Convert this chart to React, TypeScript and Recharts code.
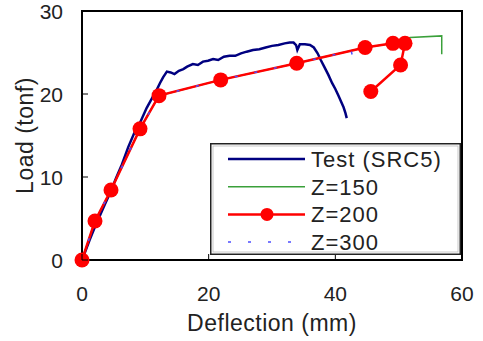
import { LineChart, Line, XAxis, YAxis, ReferenceArea, Legend } from 'recharts';

// Test (SRC5) measured curve
const testX = [0, 0.5, 1.2, 2.0, 2.8, 3.6, 4.5, 5.4, 6.3, 7.3, 8.2, 9.2, 10.2, 11.0, 11.8, 12.3, 12.8, 13.4, 14.0, 14.6, 15.3, 16.0, 16.6, 17.5, 18.3, 19.1, 19.9, 20.7, 21.5, 22.4, 23.3, 24.2, 25.1, 26.0, 27.0, 28.0, 29.0, 30.0, 31.0, 32.0, 32.8, 33.4, 33.8, 34.0, 34.4, 35.2, 36.0, 36.6, 37.2, 37.7, 38.3, 38.9, 39.5, 40.0, 40.5, 40.9, 41.3, 41.6, 41.8];
const testY = [0, 1.0, 2.4, 3.9, 5.3, 6.7, 8.2, 9.9, 11.5, 13.6, 15.2, 16.6, 18.3, 19.4, 20.5, 21.3, 22.0, 22.7, 22.6, 22.4, 22.8, 23.0, 23.3, 23.6, 23.5, 23.9, 24.0, 24.2, 24.1, 24.5, 24.6, 24.6, 24.9, 25.1, 25.3, 25.4, 25.6, 25.8, 25.9, 26.1, 26.2, 26.2, 25.9, 25.3, 26.0, 26.0, 25.9, 25.6, 24.9, 24.1, 23.2, 22.3, 21.3, 20.6, 19.8, 19.1, 18.4, 17.7, 17.1];

// Analysis Z=150
const z150X = [0, 2.05, 4.58, 9.16, 12.16, 21.9, 33.9, 44.7, 49.1, 51.8, 56.8, 56.8];
const z150Y = [0, 4.7, 8.43, 15.8, 19.8, 21.7, 23.7, 25.6, 26.1, 26.8, 27.0, 24.8];

// Analysis Z=200
const z200X = [0, 2.05, 4.58, 9.16, 12.16, 21.9, 33.9, 44.7, 49.1, 51.0, 50.3, 45.6];
const z200Y = [0, 4.7, 8.43, 15.8, 19.8, 21.7, 23.7, 25.6, 26.1, 26.1, 23.5, 20.3];

// Analysis Z=300
const z300X = [0, 2.05, 4.58, 9.16, 12.16, 21.9, 33.9, 42.5, 43.1, 42.7];
const z300Y = [0, 4.7, 8.43, 15.8, 19.8, 21.7, 23.7, 25.2, 23.4, 22.9];

const xTicks = [0, 20, 40, 60];
const yTicks = [0, 10, 20, 30];

const toPoints = (xs: number[], ys: number[]) => xs.map((x, i) => ({ x, y: ys[i] }));

const testData = toPoints(testX, testY);
const z150Data = toPoints(z150X, z150Y);
const z200Data = toPoints(z200X, z200Y);
const z300Data = toPoints(z300X, z300Y);

const FONT = '"Liberation Sans", Arial, sans-serif';
const TEXT = '#222';
const Y_MARGIN = 19;
const X_MARGIN = 26;
const TICK_LEN = 6;

const YTick = (props: any) => {
    const { x, y, payload } = props;
    const ax = x + Y_MARGIN;
    return (
        <g>
            <line x1={ax} x2={ax + TICK_LEN} y1={y} y2={y} stroke="#000" strokeWidth={1} />
            <text x={x} y={y} dy="0.36em" textAnchor="end" fontSize={21} fontFamily={FONT} fill={TEXT}>
                {payload.value}
            </text>
        </g>
    );
};

const XTick = (props: any) => {
    const { x, y, payload } = props;
    const ay = y - X_MARGIN;
    return (
        <g>
            <line x1={x} x2={x} y1={ay} y2={ay - TICK_LEN} stroke="#000" strokeWidth={1} />
            <text x={x} y={y} dy="0.71em" textAnchor="middle" fontSize={21} fontFamily={FONT} fill={TEXT}>
                {payload.value}
            </text>
        </g>
    );
};

const legendItems = [
    { name: 'Test (SRC5)', color: '#000080', width: 2.5, dash: undefined, dot: false },
    { name: 'Z=150', color: '#3aa03a', width: 1.5, dash: undefined, dot: false },
    { name: 'Z=200', color: '#ff0000', width: 2.5, dash: undefined, dot: true },
    { name: 'Z=300', color: '#4d4dff', width: 1.5, dash: '3 17', dot: false },
];

const LegendBox = () => (
    <svg width={251} height={112} style={{ display: 'block' }}>
        <rect x={0.75} y={0.75} width={249.5} height={110.5} fill="#fff" stroke="#222" strokeWidth={1.5} />
        <rect x={3} y={3} width={245} height={106} fill="none" stroke="#bbb" strokeWidth={0.8} />
        {legendItems.map((item, i) => {
            const cy = 16 + i * 27.7;
            return (
                <g key={item.name}>
                    <line x1={18} x2={95} y1={cy} y2={cy} stroke={item.color} strokeWidth={item.width} strokeDasharray={item.dash} />
                    {item.dot && <circle cx={57} cy={cy} r={6.5} fill={item.color} />}
                    <text x={101} y={cy} dy="0.36em" fontSize={22} fontFamily={FONT} fill={TEXT} letterSpacing={1}>
                        {item.name}
                    </text>
                </g>
            );
        })}
    </svg>
);

export default function App() {
    return (
        <div style={{ position: 'absolute', left: 0, top: 0, width: 483, height: 341, background: '#fff' }}>
            <LineChart width={483} height={341} margin={{ top: 11, right: 21, bottom: 0, left: 0 }}>
                <XAxis
                    dataKey="x"
                    type="number"
                    domain={[0, 60]}
                    ticks={xTicks}
                    height={81}
                    axisLine={false}
                    tickLine={false}
                    tickSize={0}
                    tickMargin={X_MARGIN}
                    tick={<XTick />}
                    label={{ value: 'Deflection (mm)', position: 'insideBottom', offset: 10, fontSize: 23, fontFamily: FONT, fill: TEXT, letterSpacing: 0.5 }}
                />
                <YAxis
                    dataKey="y"
                    type="number"
                    domain={[0, 30]}
                    ticks={yTicks}
                    width={82}
                    axisLine={false}
                    tickLine={false}
                    tickSize={0}
                    tickMargin={Y_MARGIN}
                    tick={<YTick />}
                    label={{ value: 'Load (tonf)', angle: -90, position: 'insideLeft', offset: 25, fontSize: 23, fontFamily: FONT, fill: TEXT, letterSpacing: 0.5, style: { textAnchor: 'middle' } }}
                />
                <ReferenceArea x1={0} x2={60} y1={0} y2={30} fill="none" stroke="#000" strokeWidth={2} />
                <Line data={testData} dataKey="y" stroke="#000080" strokeWidth={2.5} dot={false} activeDot={false} isAnimationActive={false} />
                <Line data={z150Data} dataKey="y" stroke="#3aa03a" strokeWidth={1.5} dot={false} activeDot={false} isAnimationActive={false} />
                <Line data={z200Data} dataKey="y" stroke="#ff0000" strokeWidth={2.5} dot={{ r: 7.5, fill: '#ff0000', stroke: '#ff0000', strokeWidth: 0 }} activeDot={false} isAnimationActive={false} />
                <Line data={z300Data} dataKey="y" stroke="#4d4dff" strokeWidth={1.5} strokeDasharray="3 17" dot={false} activeDot={false} isAnimationActive={false} />
                <Legend
                    layout="horizontal"
                    verticalAlign="middle"
                    align="center"
                    wrapperStyle={{ position: 'absolute', left: 210, top: 143, width: 251, height: 112 }}
                    content={<LegendBox />}
                />
            </LineChart>
        </div>
    );
}
